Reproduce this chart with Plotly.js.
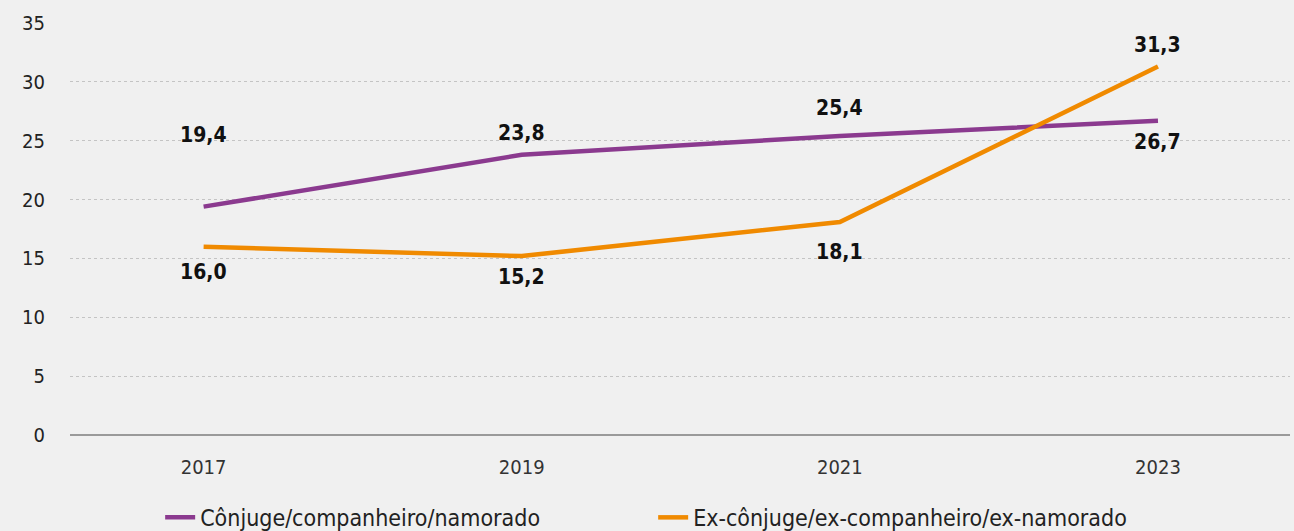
<!DOCTYPE html>
<html>
<head>
<meta charset="utf-8">
<script src="https://cdn.plot.ly/plotly-3.0.1.min.js"></script>
<style>
html,body{margin:0;padding:0;background:#f0f0f0;}
#chart{width:1294px;height:531px;}
</style>
</head>
<body>
<div id="chart"></div>
<script>
var years = [2017, 2019, 2021, 2023];
var seriesNames = ["Cônjuge/companheiro/namorado", "Ex-cônjuge/ex-companheiro/ex-namorado"];
var conjuge = [19.4, 23.8, 25.4, 26.7];
var exConjuge = [16.0, 15.2, 18.1, 31.3];
var yTicks = [0, 5, 10, 15, 20, 25, 30, 35];

// label offsets in pixels (styling)
var conjugeShift = [72, 22, 28, -21];
var exShift = [-25, -21, -30, 22];

var FONT = "'DejaVu Sans Condensed', 'Liberation Sans Narrow', sans-serif";
var purple = "#8b3a8f";
var orange = "#f08a00";

function fmt(v){ return v.toFixed(1).replace('.', ','); }

var traces = [
  {x: years, y: conjuge, name: seriesNames[0], type: 'scatter', mode: 'lines',
   line: {color: purple, width: 4.5}, hoverinfo: 'skip'},
  {x: years, y: exConjuge, name: seriesNames[1], type: 'scatter', mode: 'lines',
   line: {color: orange, width: 4.5}, hoverinfo: 'skip'}
];

var annotations = [];
years.forEach(function(yr, i){
  annotations.push({x: yr, y: conjuge[i], text: fmt(conjuge[i]), showarrow: false,
    yshift: conjugeShift[i], font: {family: FONT, size: 21, color: '#111', weight: 'bold'}});
  annotations.push({x: yr, y: exConjuge[i], text: fmt(exConjuge[i]), showarrow: false,
    yshift: exShift[i], font: {family: FONT, size: 21, color: '#111', weight: 'bold'}});
});

var layout = {
  width: 1294, height: 531,
  paper_bgcolor: '#f0f0f0', plot_bgcolor: '#f0f0f0',
  margin: {l: 70, r: 4, t: 23, b: 96, autoexpand: false},
  font: {family: FONT, size: 20, color: '#222'},
  xaxis: {
    range: [2016.16, 2023.83], tickvals: years, ticktext: years.map(String),
    showgrid: false, zeroline: false, showline: false, ticks: '',
    tickfont: {family: FONT, size: 20, color: '#333'}, ticklabelstandoff: 18
  },
  yaxis: {
    range: [0, 35], tickvals: yTicks, ticktext: yTicks.map(String),
    showgrid: true, gridcolor: '#c4c4c4', griddash: 'dot', gridwidth: 1,
    zeroline: true, zerolinecolor: '#9a9a9a', zerolinewidth: 2,
    showline: false, ticks: '', ticklabelstandoff: 24,
    tickfont: {family: FONT, size: 20, color: '#222'}
  },
  showlegend: true,
  legend: {orientation: 'h', x: 0.478, xanchor: 'center', y: -0.2, yanchor: 'middle',
    font: {family: FONT, size: 23, color: '#222'}, bgcolor: 'rgba(0,0,0,0)',
    entrywidth: 448, entrywidthmode: 'pixels'},
  annotations: annotations
};

Plotly.newPlot('chart', traces, layout, {displayModeBar: false, staticPlot: true});
</script>
</body>
</html>
